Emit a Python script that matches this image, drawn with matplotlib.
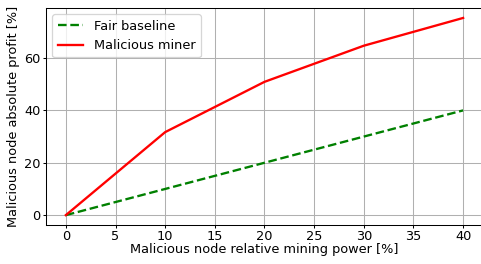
import matplotlib
matplotlib.use('Agg')
from matplotlib import pyplot as plt

# mining power (%) and absolute profit (%)
power = [0, 10, 20, 30, 40]
fair_profit = [0, 10, 20, 30, 40]
malicious_profit = [0, 31.7, 50.9, 64.7, 75.3]

xticks = [0, 5, 10, 15, 20, 25, 30, 35, 40]
yticks = [0, 20, 40, 60]

dpi = 93
fig = plt.figure(figsize=(481 / dpi, 264 / dpi), dpi=dpi)
ax = fig.add_axes([0.0956, 0.1477, 0.9085, 0.822])

ax.plot(power, fair_profit, color='green', linestyle='--', linewidth=1.8, label='Fair baseline')
ax.plot(power, malicious_profit, color='red', linewidth=1.8, label='Malicious miner')

ax.set_xticks(xticks)
ax.set_yticks(yticks)
ax.tick_params(axis='x', length=2.5, pad=1.2)
ax.tick_params(axis='y', length=2.5, pad=1.5)
ax.set_xlim(-2, 42)
ax.set_ylim(-3.77, 79.1)
ax.grid(True)
ax.set_xlabel('Malicious node relative mining power [%]', labelpad=0.5)
ax.set_ylabel('Malicious node absolute profit [%]', labelpad=3)
ax.legend(loc='upper left')

fig.savefig('out.png', dpi=dpi)
